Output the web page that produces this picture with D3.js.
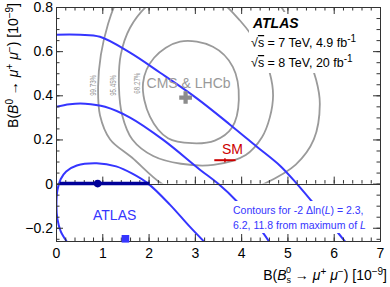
<!DOCTYPE html>
<html>
<head>
<meta charset="utf-8">
<script src="https://cdn.jsdelivr.net/npm/d3@7/dist/d3.min.js"></script>
<style>
  body { margin: 0; background: #ffffff; }
  svg text { font-family: "Liberation Sans", Arial, Helvetica, sans-serif; }
</style>
</head>
<body>
<div id="chart"></div>
<script>
const width = 390;
const height = 287;

// axis ticks
const xTicks = [0, 1, 2, 3, 4, 5, 6, 7];
const xTickLabels = ["0", "1", "2", "3", "4", "5", "6", "7"];
const yTicks = [-0.2, 0, 0.2, 0.4, 0.6, 0.8];
const yTickLabels = ["\u22120.2", "0", "0.2", "0.4", "0.6", "0.8"];

// ATLAS contours for -2 dln(L) = 2.3, 6.2, 11.8  ([B(Bs), B(B0)] in 1e-9)
const atlasContour23 = [[0.24, -0.265], [0.1, -0.215], [0.03, -0.16], [0.01, -0.1], [0.03, -0.03],
  [0.1, 0.02], [0.22, 0.055], [0.45, 0.082], [0.88, 0.092], [1.3, 0.078], [1.65, 0.045],
  [1.99, 0], [2.46, -0.095], [2.89, -0.195], [3.28, -0.28]];
const atlasContour62 = [[-0.3, 0.33], [0, 0.348], [0.3, 0.36], [0.63, 0.362], [1.06, 0.348],
  [1.6, 0.299], [2.31, 0.199], [3.11, 0.063], [3.5, 0], [3.91, -0.081], [4.47, -0.222], [4.67, -0.285]];
const atlasContour118 = [[-0.3, 0.67], [0, 0.674], [0.52, 0.674], [0.95, 0.665], [1.6, 0.593],
  [2.25, 0.502], [3.05, 0.385], [3.76, 0.267], [4.34, 0.167], [4.84, 0.081], [5.2, 0],
  [5.53, -0.081], [6.07, -0.217], [6.35, -0.29]];

// ATLAS result
const atlasBs = 0.9;
const atlasBsLow = 0.08;
const atlasBsHigh = 2.02;
const atlasMax = [1.5, -0.25];

// CMS & LHCb combination
const cmsLhcb6827 = [[1.88, 0.455], [2.12, 0.57], [2.68, 0.643], [3.39, 0.62], [3.82, 0.529],
  [3.95, 0.38], [3.8, 0.253], [3.43, 0.195], [2.94, 0.183], [2.42, 0.205], [2.03, 0.303]];
const cmsLhcb9545 = [[1.36, 0.44], [1.4, 0.584], [1.6, 0.706], [1.99, 0.81], [2.57, 0.89],
  [3.33, 0.86], [3.97, 0.74], [4.41, 0.61], [4.62, 0.5], [4.69, 0.4], [4.62, 0.3], [4.45, 0.21],
  [4.1, 0.13], [3.4, 0.085], [2.7, 0.09], [2.1, 0.125], [1.65, 0.2], [1.43, 0.31]];
const cmsLhcb9973 = [[0.91, 0.44], [0.97, 0.584], [1.12, 0.72], [1.34, 0.84], [1.81, 0.97],
  [3.11, 1.06], [4.3, 0.95], [4.9, 0.79], [5.33, 0.63], [5.62, 0.47], [5.7, 0.36], [5.57, 0.2],
  [5.18, 0.086], [4.51, 0], [3.76, -0.06], [2.89, -0.06], [2.28, 0], [1.64, 0.118],
  [1.17, 0.2], [0.95, 0.31]];
const cmsLhcbCentral = [2.8, 0.39];
const ringLabels = ["99.73%", "95.45%", "68.27%"];
const ringLabelPos = [[0.8, 0.445], [1.24, 0.445], [1.75, 0.455]];

// Standard Model
const smValue = [3.65, 0.106];
const smError = 0.23;

const svg = d3.select("#chart").append("svg")
  .attr("width", width)
  .attr("height", height);

const x = d3.scaleLinear().domain([0, 7]).range([56, 380]);
const y = d3.scaleLinear().domain([-0.26, 0.8]).range([241, 7]);

const defs = svg.append("defs");
defs.append("clipPath").attr("id", "plot-clip")
  .append("rect")
  .attr("x", x(0)).attr("y", y(0.8))
  .attr("width", x(7) - x(0)).attr("height", y(-0.26) - y(0.8));
defs.append("clipPath").attr("id", "upper-clip")
  .append("rect")
  .attr("x", x(0)).attr("y", y(0.8))
  .attr("width", x(7) - x(0)).attr("height", y(0) - y(0.8));

//CMS & LHCb rings
const ringLine = d3.line()
  .x((d) => x(d[0]))
  .y((d) => y(d[1]))
  .curve(d3.curveCatmullRomClosed);

svg.append("g")
  .attr("clip-path", "url(#upper-clip)")
  .selectAll("path")
  .data([cmsLhcb9973, cmsLhcb9545, cmsLhcb6827])
  .enter()
  .append("path")
  .attr("d", ringLine)
  .attr("fill", "none")
  .attr("stroke", "#9a9a9a")
  .attr("stroke-width", 1.8);

svg.append("g")
  .selectAll("text")
  .data(ringLabels)
  .enter()
  .append("text")
  .attr("transform", (d, i) => `translate(${x(ringLabelPos[i][0])},${y(ringLabelPos[i][1])}) rotate(-90)`)
  .attr("text-anchor", "middle")
  .attr("dy", "0.35em")
  .attr("textLength", 21)
  .attr("lengthAdjust", "spacingAndGlyphs")
  .style("font-size", "8.5px")
  .attr("fill", "#9a9a9a")
  .text((d) => d);

// ATLAS contours
const contourLine = d3.line()
  .x((d) => x(d[0]))
  .y((d) => y(d[1]))
  .curve(d3.curveCatmullRom);

svg.append("g")
  .attr("clip-path", "url(#plot-clip)")
  .selectAll("path")
  .data([atlasContour23, atlasContour62, atlasContour118])
  .enter()
  .append("path")
  .attr("d", contourLine)
  .attr("fill", "none")
  .attr("stroke", "#3535ff")
  .attr("stroke-width", 2);

// white boxes behind the texts
svg.append("rect").attr("x", 249).attr("y", 12).attr("width", 122).attr("height", 61).attr("fill", "#fff");
svg.append("rect").attr("x", 229).attr("y", 201).attr("width", 142).attr("height", 32).attr("fill", "#fff");

// axes
function styleAxis(g, size) {
  g.select(".domain").remove();
  g.attr("font-family", null).attr("font-size", null);
  g.selectAll("line").attr("stroke", "#333");
  g.selectAll("text").attr("fill", "#000").style("font-size", size);
}
const xMinor = d3.range(0, 7.001, 0.2);
const yMinor = d3.range(-0.25, 0.801, 0.05);

[[y(-0.26), d3.axisBottom, true], [y(0.8), d3.axisTop, false], [y(0), d3.axisBottom, false]].forEach(function (a) {
  const major = svg.append("g")
    .attr("transform", `translate(0,${a[0]})`)
    .call(a[1](x).tickValues(xTicks).tickSizeInner(-7).tickSizeOuter(0).tickPadding(7)
      .tickFormat((d, i) => (a[2] ? xTickLabels[i] : "")));
  styleAxis(major, "14px");
  const minor = svg.append("g")
    .attr("transform", `translate(0,${a[0]})`)
    .call(a[1](x).tickValues(xMinor).tickSizeInner(-3.5).tickSizeOuter(0).tickFormat(""));
  styleAxis(minor, "14px");
});

[[x(0), d3.axisLeft, true], [x(7), d3.axisRight, false]].forEach(function (a) {
  const major = svg.append("g")
    .attr("transform", `translate(${a[0]},0)`)
    .call(a[1](y).tickValues(yTicks).tickSizeInner(-7).tickSizeOuter(0).tickPadding(3)
      .tickFormat((d, i) => (a[2] ? yTickLabels[i] : "")));
  styleAxis(major, "14px");
  const minor = svg.append("g")
    .attr("transform", `translate(${a[0]},0)`)
    .call(a[1](y).tickValues(yMinor).tickSizeInner(-3.5).tickSizeOuter(0).tickFormat(""));
  styleAxis(minor, "14px");
});

svg.append("line")
  .attr("x1", x(0)).attr("x2", x(7))
  .attr("y1", Math.round(y(0)) + 0.5).attr("y2", Math.round(y(0)) + 0.5)
  .attr("stroke", "#333");

svg.append("rect")
  .attr("x", x(0) + 0.5).attr("y", y(0.8) + 0.5)
  .attr("width", x(7) - x(0)).attr("height", y(-0.26) - y(0.8))
  .attr("fill", "none")
  .attr("stroke", "#333");

// axis titles
function sup(t, s, shift) {
  t.append("tspan").attr("dy", -shift).style("font-size", "10px").text(s);
  return t;
}
const yTitle = svg.append("text")
  .attr("transform", "translate(18,3) rotate(-90)")
  .attr("text-anchor", "end")
  .style("font-size", "14px");
yTitle.append("tspan").text("B(");
yTitle.append("tspan").style("font-style", "italic").text("B");
sup(yTitle, "0", 5);
yTitle.append("tspan").attr("dy", 5).text(" \u2192 ");
yTitle.append("tspan").style("font-style", "italic").text("\u03bc");
sup(yTitle, "+", 5);
yTitle.append("tspan").attr("dy", 5).text(" ");
yTitle.append("tspan").style("font-style", "italic").text("\u03bc");
sup(yTitle, "\u2212", 5);
yTitle.append("tspan").attr("dy", 5).text(") [10");
sup(yTitle, "\u22129", 5);
yTitle.append("tspan").attr("dy", 5).text("]");

const xTitle = svg.append("text")
  .attr("x", 387).attr("y", 280)
  .attr("text-anchor", "end")
  .style("font-size", "14px");
xTitle.append("tspan").text("B(");
xTitle.append("tspan").style("font-style", "italic").text("B");
xTitle.append("tspan").attr("dy", 3).style("font-size", "9px").text("s");
xTitle.append("tspan").attr("dx", -5).attr("dy", -10).style("font-size", "9px").text("0");
xTitle.append("tspan").attr("dy", 7).text(" \u2192 ");
xTitle.append("tspan").style("font-style", "italic").text("\u03bc");
sup(xTitle, "+", 5);
xTitle.append("tspan").attr("dy", 5).text(" ");
xTitle.append("tspan").style("font-style", "italic").text("\u03bc");
sup(xTitle, "\u2212", 5);
xTitle.append("tspan").attr("dy", 5).text(") [10");
sup(xTitle, "\u22129", 5);
xTitle.append("tspan").attr("dy", 5).text("]");

// ATLAS label and energies
svg.append("text")
  .attr("x", 253).attr("y", 28)
  .style("font-size", "14px")
  .style("font-weight", "bold")
  .style("font-style", "italic")
  .text("ATLAS");

[["7 TeV, 4.9 fb", 47], ["8 TeV, 20 fb", 67]].forEach(function (e) {
  const t = svg.append("text").attr("x", 251).attr("y", e[1]).style("font-size", "12.5px");
  t.append("tspan").text("\u221a");
  t.append("tspan").style("text-decoration", "overline").text("s");
  t.append("tspan").text(" = " + e[0]);
  sup(t, "-1", 5);
});

// CMS & LHCb
svg.append("text")
  .attr("x", x(cmsLhcbCentral[0]) + 3)
  .attr("y", y(cmsLhcbCentral[1]) - 10)
  .attr("text-anchor", "middle")
  .attr("fill", "#999")
  .style("font-size", "14px")
  .text("CMS & LHCb");

svg.append("path")
  .attr("transform", `translate(${x(cmsLhcbCentral[0])},${y(cmsLhcbCentral[1])})`)
  .attr("d", d3.symbol(d3.symbolCross).size(90))
  .attr("fill", "#8c8c8c");

// SM
svg.append("line")
  .attr("x1", x(smValue[0] - smError)).attr("x2", x(smValue[0] + smError))
  .attr("y1", y(smValue[1])).attr("y2", y(smValue[1]))
  .attr("stroke", "#cc0000").attr("stroke-width", 2);
svg.append("line")
  .attr("x1", x(smValue[0])).attr("x2", x(smValue[0]))
  .attr("y1", y(smValue[1]) - 2).attr("y2", y(smValue[1]) + 2)
  .attr("stroke", "#cc0000").attr("stroke-width", 1.5);
svg.append("text")
  .attr("x", x(smValue[0]) - 3)
  .attr("y", y(smValue[1]) - 6)
  .attr("fill", "#cc0000")
  .style("font-size", "14px")
  .text("SM");

// ATLAS result
svg.append("line")
  .attr("x1", x(atlasBsLow)).attr("x2", x(atlasBsHigh))
  .attr("y1", y(0)).attr("y2", y(0))
  .attr("stroke", "#000099").attr("stroke-width", 3.5);
svg.append("circle")
  .attr("cx", x(atlasBs)).attr("cy", y(0))
  .attr("r", 3.8)
  .attr("fill", "#000099");
svg.append("path")
  .attr("transform", `translate(${x(atlasMax[0])},${y(atlasMax[1])})`)
  .attr("d", d3.symbol(d3.symbolSquare).size(58))
  .attr("fill", "#3535ff");

svg.append("text")
  .attr("x", 93).attr("y", 220)
  .attr("fill", "#3535ff")
  .style("font-size", "14px")
  .text("ATLAS");

const note1 = svg.append("text")
  .attr("x", 233).attr("y", 214)
  .attr("fill", "#3535ff")
  .style("font-size", "10.5px");
note1.append("tspan").text("Contours for -2 \u0394ln(");
note1.append("tspan").style("font-style", "italic").text("L");
note1.append("tspan").text(") = 2.3,");
const note2 = svg.append("text")
  .attr("x", 233).attr("y", 229)
  .attr("fill", "#3535ff")
  .style("font-size", "10.5px");
note2.append("tspan").text("6.2, 11.8 from maximum of ");
note2.append("tspan").style("font-style", "italic").text("L");
</script>
</body>
</html>
